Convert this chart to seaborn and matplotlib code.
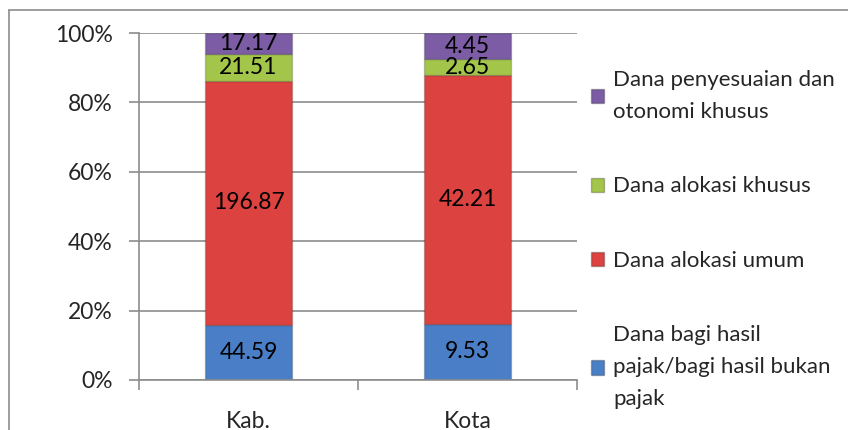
import matplotlib
matplotlib.use("Agg")
import matplotlib.pyplot as plt
from matplotlib.lines import Line2D
from matplotlib.patches import Patch
from matplotlib.ticker import PercentFormatter, FixedLocator
import numpy as np
import pandas as pd
import seaborn as sns

# data
categories = ["Kab.", "Kota"]
series = [
    "Dana bagi hasil\npajak/bagi hasil bukan\npajak",
    "Dana alokasi umum",
    "Dana alokasi khusus",
    "Dana penyesuaian dan\notonomi khusus",
]
bagi_hasil = [44.59, 9.53]
alokasi_umum = [196.87, 42.21]
alokasi_khusus = [21.51, 2.65]
penyesuaian = [17.17, 4.45]
colors = ["#4A7FC7", "#DC4340", "#A3C64A", "#7B5CA5"]

sns.set_style("white")
plt.rcParams["font.family"] = ["Lato", "DejaVu Sans"]

values = np.array([bagi_hasil, alokasi_umum, alokasi_khusus, penyesuaian])
totals = values.sum(axis=0)
pct = values / totals * 100

fig = plt.figure(figsize=(8.48, 4.30), dpi=100)
ax = fig.add_axes([139 / 848, 1 - 380 / 430, 438 / 848, 347 / 430])

bottom = np.zeros(len(categories))
for i, name in enumerate(series):
    df = pd.DataFrame({"cat": categories, "pct": pct[i]})
    sns.barplot(data=df, x="cat", y="pct", color=colors[i], width=0.4,
                bottom=bottom.copy(), edgecolor="#00000030", linewidth=1,
                saturation=1, ax=ax)
    cont = ax.containers[-1]
    ax.bar_label(cont, labels=[f"{v:.2f}" for v in values[i]],
                 label_type="center", fontsize=16.5, color="black")
    bottom += pct[i]

ax.set_ylim(0, 100)
ax.set_xlim(-0.5, 1.5)
ax.yaxis.set_major_formatter(PercentFormatter(decimals=0))
ax.set_yticks([0, 20, 40, 60, 80, 100])
ax.grid(axis="y", color="#8c8c8c", linewidth=1.2)
ax.set_axisbelow(True)
ax.set_xlabel("")
ax.set_ylabel("")

for s in ["top", "right"]:
    ax.spines[s].set_visible(False)
for s in ["left", "bottom"]:
    ax.spines[s].set_color("#8c8c8c")
    ax.spines[s].set_linewidth(1.2)

ax.tick_params(axis="y", length=7, width=1.2, color="#8c8c8c", pad=12,
               labelsize=16.5, direction="out", left=True)
ax.tick_params(axis="x", which="major", length=0, pad=22, labelsize=16.5)
ax.xaxis.set_minor_locator(FixedLocator([-0.5, 0.5, 1.5]))
ax.tick_params(axis="x", which="minor", length=7, width=1.2,
               color="#8c8c8c", direction="out", bottom=True)

# legend, reversed order like the original
handles = [Patch(facecolor=colors[i], edgecolor="#00000040", label=series[i])
           for i in range(len(series))][::-1]
leg = fig.legend(handles=handles, loc="upper left",
                 bbox_to_anchor=(591 / 848, 1 - 70 / 430), frameon=False,
                 fontsize=16, handlelength=0.6, handleheight=0.6,
                 handletextpad=0.4, labelspacing=2.45, borderpad=0,
                 borderaxespad=0)
for t in leg.get_texts():
    t.set_linespacing(1.75)

# chart area border
fig.add_artist(Line2D([9 / 848, 9 / 848], [0, 1 - 10 / 430],
                      transform=fig.transFigure, color="#8c8c8c", lw=1.2))
fig.add_artist(Line2D([9 / 848, 1], [1 - 10 / 430, 1 - 10 / 430],
                      transform=fig.transFigure, color="#8c8c8c", lw=1.2))

fig.savefig("out.png", dpi=100)
